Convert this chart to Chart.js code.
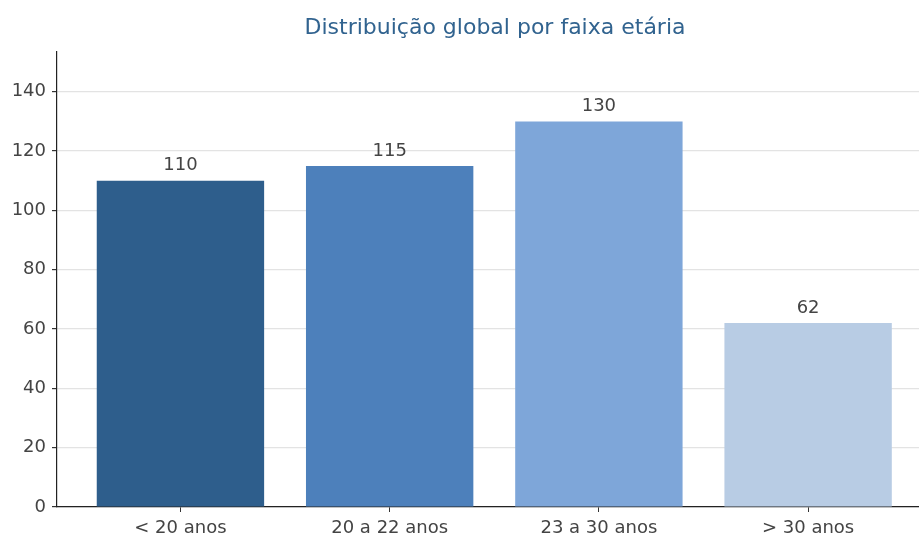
<!DOCTYPE html>
<html>
<head>
<meta charset="utf-8">
<script src="https://cdn.jsdelivr.net/npm/chart.js@4.4.1/dist/chart.umd.min.js"></script>
<style>
  html, body { margin: 0; padding: 0; background: #fff; overflow: hidden; }
  #wrap { width: 919px; height: 534px; }
</style>
</head>
<body>
<div id="wrap"><canvas id="chart"></canvas></div>
<script>
const chartTitle = 'Distribuição global por faixa etária';
const categories = ['< 20 anos', '20 a 22 anos', '23 a 30 anos', '> 30 anos'];
const counts = [110, 115, 130, 62];
const barColors = ['#2e5e8c', '#4d80bb', '#7ea6d9', '#b8cce4'];
const yTicks = [0, 20, 40, 60, 80, 100, 120, 140];

const fontFamily = "'DejaVu Sans', sans-serif";
const textColor = '#444444';

// value labels above bars + title centred over the axes
const annotate = {
    id: 'annotate',
    afterDatasetsDraw(chart) {
        const ctx = chart.ctx;
        const meta = chart.getDatasetMeta(0);
        ctx.save();
        ctx.font = '18px ' + fontFamily;
        ctx.fillStyle = textColor;
        ctx.textAlign = 'center';
        ctx.textBaseline = 'bottom';
        meta.data.forEach((bar, i) => {
            ctx.fillText(String(counts[i]), bar.x, bar.y - 6);
        });
        ctx.font = '22px ' + fontFamily;
        ctx.fillStyle = '#31638f';
        ctx.textBaseline = 'middle';
        ctx.fillText(chartTitle, 495, 28);
        ctx.restore();
    }
};

new Chart(document.getElementById('chart'), {
    type: 'bar',
    data: {
        datasets: [{
            data: counts.map((v, i) => ({ x: i, y: v })),
            backgroundColor: barColors,
            borderWidth: 0,
            barPercentage: 0.8,
            categoryPercentage: 1
        }]
    },
    options: {
        responsive: true,
        maintainAspectRatio: false,
        animation: false,
        layout: { padding: { top: 52, right: 0, left: 0, bottom: 0 } },
        plugins: {
            legend: { display: false },
            tooltip: { enabled: false }
        },
        scales: {
            x: {
                type: 'linear',
                offset: false,
                min: -0.59,
                max: 3.53,
                afterBuildTicks: (axis) => {
                    axis.ticks = categories.map((c, i) => ({ value: i }));
                },
                afterFit: (axis) => { axis.height = 27; },
                ticks: {
                    autoSkip: false,
                    maxRotation: 0,
                    padding: 6,
                    color: textColor,
                    font: { family: fontFamily, size: 18 },
                    callback: (v) => categories[v]
                },
                grid: {
                    offset: false,
                    drawOnChartArea: false,
                    drawTicks: true,
                    tickLength: 5,
                    tickColor: '#333'
                },
                border: { display: true, color: '#222', width: 1.2 }
            },
            y: {
                min: 0,
                max: 153.4,
                afterBuildTicks: (axis) => {
                    axis.ticks = yTicks.map((v) => ({ value: v }));
                },
                afterFit: (axis) => { axis.width = 57; },
                ticks: {
                    padding: 6,
                    color: textColor,
                    font: { family: fontFamily, size: 18 }
                },
                grid: {
                    color: '#e3e3e3',
                    lineWidth: 1.2,
                    tickLength: 5,
                    tickColor: '#333'
                },
                border: { display: true, color: '#222', width: 1.2 }
            }
        }
    },
    plugins: [annotate]
});
</script>
</body>
</html>
